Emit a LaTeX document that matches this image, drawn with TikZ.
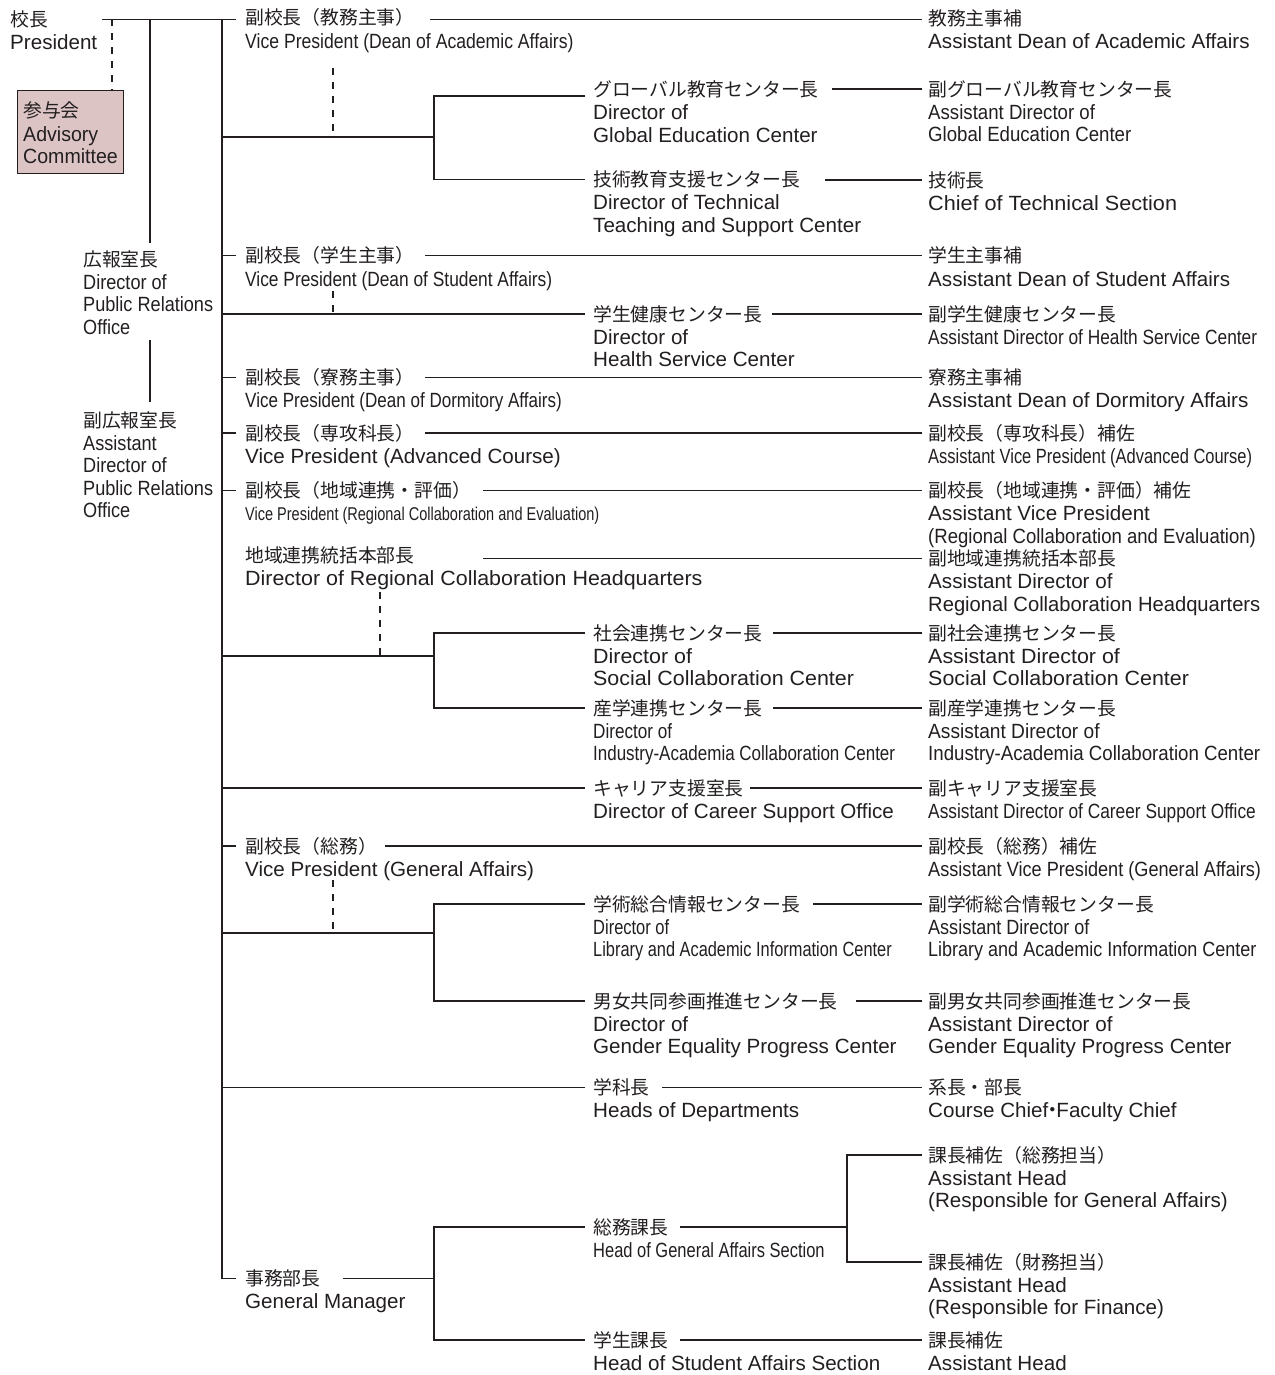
\documentclass[tikz,border=0pt]{standalone}
\usepackage{fontspec}
\usepackage{graphicx}
\setmainfont{Liberation Sans}
\newfontfamily\jpf{Noto Sans CJK JP}
\definecolor{ink}{HTML}{231F20}
\definecolor{advfill}{HTML}{DCC4C5}
\newcommand\lines[1]{\vtop{\baselineskip=22.4pt\lineskiplimit=-40pt\lineskip=0pt\relax#1}}
\newcommand\Ln[2][1]{\hbox{\scalebox{#1}[1]{#2}}}
\newcommand\entry[5]{%
  \node[jpn] (#1) at (#2,-#3) {#4};
  \node[enn] (#1e) at ([yshift=-23.3pt]#1.base west) {\lines{#5}};}
\tikzset{
  jpn/.style={anchor=west, inner sep=0pt, text height=15.6pt, text depth=1.3pt,
    font=\jpf\fontsize{18.8}{22.4}\selectfont, text=ink},
  enn/.style={anchor=base west, inner sep=0pt, font=\fontsize{20.6}{22.4}\selectfont, text=ink},
  ln/.style={draw=ink, line width=1.3pt},
  dsh/.style={draw=ink, line width=1.3pt, dash pattern=on 7pt off 7pt},
}
\begin{document}
\begin{tikzpicture}[x=1pt,y=1pt]
\useasboundingbox (0,0) rectangle (1274,-1375);
\fill[white] (0,0) rectangle (1274,-1375);

% ---------- left column ----------
\entry{pres}{10}{19.5}{校長}{\Ln{President}}
\node[draw=ink, line width=1.2pt, fill=advfill, anchor=north west, minimum width=106pt,
  minimum height=83pt, inner sep=0pt] (adv) at (17,-90) {};
\entry{advj}{23}{110.8}{参与会}{\Ln[0.95]{Advisory}\Ln[0.95]{Committee}}
\entry{pr}{83}{259}{広報室長}{\Ln[0.88]{Director of}\Ln[0.88]{Public Relations}\Ln[0.88]{Office}}
\entry{apr}{83}{420}{副広報室長}{\Ln[0.88]{Assistant}\Ln[0.88]{Director of}\Ln[0.88]{Public Relations}\Ln[0.88]{Office}}

% ---------- vice presidents etc. ----------
\entry{vpA}{245}{17.7}{副校長（教務主事）}{\Ln[0.855]{Vice President (Dean of Academic Affairs)}}
\entry{vpB}{245}{255.7}{副校長（学生主事）}{\Ln[0.842]{Vice President (Dean of Student Affairs)}}
\entry{vpC}{245}{377.5}{副校長（寮務主事）}{\Ln[0.827]{Vice President (Dean of Dormitory Affairs)}}
\entry{vpD}{245}{433}{副校長（専攻科長）}{\Ln{Vice President (Advanced Course)}}
\entry{vpE}{245}{490.5}{副校長（地域連携・評価）}{\Ln[0.785]{\fontsize{18.5}{22.4}\selectfont Vice President (Regional Collaboration and Evaluation)}}
\entry{hq}{245}{555}{地域連携統括本部長}{\Ln[1.04]{Director of Regional Collaboration Headquarters}}
\entry{vpF}{245}{846}{副校長（総務）}{\Ln{Vice President (General Affairs)}}
\entry{gm}{245}{1278.5}{事務部長}{\Ln{General Manager}}

% ---------- middle column ----------
\entry{gec}{593}{89.5}{グローバル教育センター長}{\Ln{Director of}\Ln{Global Education Center}}
\entry{ttc}{593}{179.5}{技術教育支援センター長}{\Ln{Director of Technical}\Ln{Teaching and Support Center}}
\entry{hsc}{593}{314}{学生健康センター長}{\Ln{Director of}\Ln{Health Service Center}}
\entry{scc}{593}{633}{社会連携センター長}{\Ln[1.04]{Director of}\Ln[1.04]{Social Collaboration Center}}
\entry{iac}{593}{708}{産学連携センター長}{\Ln[0.83]{Director of}\Ln[0.824]{Industry-Academia Collaboration Center}}
\entry{cso}{593}{788}{キャリア支援室長}{\Ln{Director of Career Support Office}}
\entry{lib}{593}{904}{学術総合情報センター長}{\Ln[0.8]{Director of}\Ln[0.795]{Library and Academic Information Center}}
\entry{gep}{593}{1001}{男女共同参画推進センター長}{\Ln{Director of}\Ln{Gender Equality Progress Center}}
\entry{hod}{593}{1087.5}{学科長}{\Ln{Heads of Departments}}
\entry{gas}{593}{1227}{総務課長}{\Ln[0.8]{Head of General Affairs Section}}
\entry{sas}{593}{1340}{学生課長}{\Ln{Head of Student Affairs Section}}

% ---------- right column ----------
\entry{asA}{928}{18.5}{教務主事補}{\Ln{Assistant Dean of Academic Affairs}}
\entry{agec}{928}{89}{副グローバル教育センター長}{\Ln[0.905]{Assistant Director of}\Ln[0.905]{Global Education Center}}
\entry{cts}{928}{180}{技術長}{\Ln[1.05]{Chief of Technical Section}}
\entry{asB}{928}{255.7}{学生主事補}{\Ln{Assistant Dean of Student Affairs}}
\entry{ahsc}{928}{314}{副学生健康センター長}{\Ln[0.84]{Assistant Director of Health Service Center}}
\entry{asC}{928}{377.5}{寮務主事補}{\Ln{Assistant Dean of Dormitory Affairs}}
\entry{avpD}{928}{433}{副校長（専攻科長）補佐}{\Ln[0.8]{Assistant Vice President (Advanced Course)}}
\entry{avpE}{928}{490.5}{副校長（地域連携・評価）補佐}{\Ln{Assistant Vice President}\Ln[0.9]{(Regional Collaboration and Evaluation)}}
\entry{ahq}{928}{558.5}{副地域連携統括本部長}{\Ln{Assistant Director of}\Ln[0.98]{Regional Collaboration Headquarters}}
\entry{ascc}{928}{633}{副社会連携センター長}{\Ln[1.04]{Assistant Director of}\Ln[1.04]{Social Collaboration Center}}
\entry{aiac}{928}{708}{副産学連携センター長}{\Ln[0.93]{Assistant Director of}\Ln[0.906]{Industry-Academia Collaboration Center}}
\entry{acso}{928}{788}{副キャリア支援室長}{\Ln[0.84]{Assistant Director of Career Support Office}}
\entry{avpF}{928}{846}{副校長（総務）補佐}{\Ln[0.88]{Assistant Vice President (General Affairs)}}
\entry{alib}{928}{904}{副学術総合情報センター長}{\Ln[0.875]{Assistant Director of}\Ln[0.874]{Library and Academic Information Center}}
\entry{agep}{928}{1001}{副男女共同参画推進センター長}{\Ln{Assistant Director of}\Ln{Gender Equality Progress Center}}
\entry{ccf}{928}{1087.5}{系長・部長}{\Ln{Course Chief\makebox[8pt]{\jpf ・}Faculty Chief}}
\entry{ahga}{928}{1155}{課長補佐（総務担当）}{\Ln{Assistant Head}\Ln{(Responsible for General Affairs)}}
\entry{ahfi}{928}{1262}{課長補佐（財務担当）}{\Ln{Assistant Head}\Ln{(Responsible for Finance)}}
\entry{ahsa}{928}{1340}{課長補佐}{\Ln{Assistant Head}}

% ---------- connectors ----------
% president, advisory, public relations
\draw[ln] (102,-19.3) -- (236,-19.3);
\draw[dsh] (112,-19.3) -- (adv.north -| 112,0);
\draw[ln] (150,-19.3) -- (150,-243);
\draw[ln] (150,-340) -- (150,-402);
% main trunk
\draw[ln] (222,-19.3) -- (222,0 |- gm.west) -- ([xshift=-9pt]gm.west);
% ticks to vice presidents
\foreach \n in {vpB,vpC,vpD,vpE,vpF}
  \draw[ln] (222,0 |- \n.west) -- ([xshift=-9pt]\n.west);
% vice presidents to assistants
\draw[ln] (430,-19.3) -- ([xshift=-6pt]asA.west |- 0,-19.3);
\draw[ln] (425,0 |- asB.west) -- ([xshift=-6pt]asB.west);
\draw[ln] (425,0 |- asC.west) -- ([xshift=-6pt]asC.west);
\draw[ln] (425,0 |- avpD.west) -- ([xshift=-6pt]avpD.west);
\draw[ln] (483,0 |- avpE.west) -- ([xshift=-6pt]avpE.west);
\draw[ln] (483,0 |- ahq.west) -- ([xshift=-6pt]ahq.west);
\draw[ln] (385,0 |- avpF.west) -- ([xshift=-6pt]avpF.west);
% academic affairs group
\draw[dsh] (333,-68) -- (333,-137);
\draw[ln] (222,-137) -- (434,-137);
\draw[ln] ([xshift=-8pt]gec.west |- 0,-96) -| (434,0 |- ttc.west) -- ([xshift=-8pt]ttc.west);
\draw[ln] (832,0 |- agec.west) -- ([xshift=-6pt]agec.west);
\draw[ln] (825,0 |- cts.west) -- ([xshift=-6pt]cts.west);
% health service center
\draw[dsh] (333,-291) -- (333,0 |- hsc.west);
\draw[ln] (222,0 |- hsc.west) -- ([xshift=-8pt]hsc.west);
\draw[ln] (772,0 |- ahsc.west) -- ([xshift=-6pt]ahsc.west);
% regional collaboration group
\draw[dsh] (380,-592) -- (380,-656);
\draw[ln] (222,-656) -- (434,-656);
\draw[ln] ([xshift=-8pt]scc.west) -| (434,0 |- iac.west) -- ([xshift=-8pt]iac.west);
\draw[ln] (773,0 |- ascc.west) -- ([xshift=-6pt]ascc.west);
\draw[ln] (773,0 |- aiac.west) -- ([xshift=-6pt]aiac.west);
% career support
\draw[ln] (222,0 |- cso.west) -- ([xshift=-8pt]cso.west);
\draw[ln] (750,0 |- acso.west) -- ([xshift=-6pt]acso.west);
% general affairs group
\draw[dsh] (333,-880) -- (333,-933);
\draw[ln] (222,-933) -- (434,-933);
\draw[ln] ([xshift=-8pt]lib.west) -| (434,0 |- gep.west) -- ([xshift=-8pt]gep.west);
\draw[ln] (813,0 |- alib.west) -- ([xshift=-6pt]alib.west);
\draw[ln] (856,0 |- agep.west) -- ([xshift=-6pt]agep.west);
% departments
\draw[ln] (222,0 |- hod.west) -- ([xshift=-8pt]hod.west);
\draw[ln] (662,0 |- ccf.west) -- ([xshift=-6pt]ccf.west);
% general manager group
\draw[ln] (343,0 |- gm.west) -- (434,0 |- gm.west);
\draw[ln] ([xshift=-8pt]gas.west) -| (434,0 |- sas.west) -- ([xshift=-8pt]sas.west);
\draw[ln] (680,0 |- gas.west) -- (847,0 |- gas.west);
\draw[ln] ([xshift=-6pt]ahga.west) -| (847,0 |- ahfi.west) -- ([xshift=-6pt]ahfi.west);
\draw[ln] (680,0 |- ahsa.west) -- ([xshift=-6pt]ahsa.west);
\end{tikzpicture}
\end{document}
